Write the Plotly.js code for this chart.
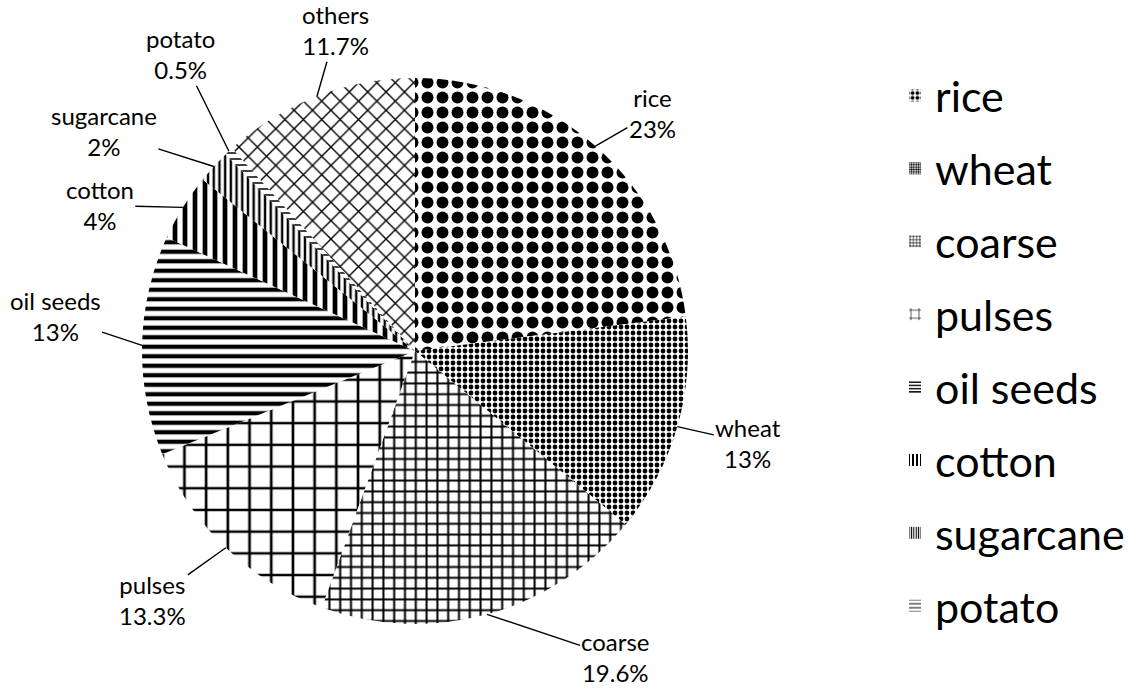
<!DOCTYPE html>
<html><head><meta charset="utf-8">
<script src="https://cdn.plot.ly/plotly-3.0.1.min.js"></script>
<style>html,body{margin:0;padding:0;background:#fff}</style>
</head><body><div id="chart" style="width:1138px;height:691px"></div>
<script>
// ---- data ----
const categories = ['rice', 'wheat', 'coarse', 'pulses', 'oil seeds', 'cotton', 'sugarcane', 'potato', 'others'];
const shares = [23, 13, 19.6, 13.3, 13, 4, 2, 0.5, 11.7];
const legendCategories = ['rice', 'wheat', 'coarse', 'pulses', 'oil seeds', 'cotton', 'sugarcane', 'potato'];

// ---- styles ----
const sliceShapes   = ['.', '.', '+', '+', '-', '|', '|', '-', 'x'];
const sliceSizes    = [15, 6, 10.8, 21.7, 9.5, 10, 5.7, 6, 13];
const sliceSolidity = [0.5, 0.5, 0.34, 0.23, 0.45, 0.47, 0.42, 0.25, 0.2];
const legendSizes    = [6, 3, 4, 12, 4, 5, 3, 5];
const legendSolidity = [0.5, 0.5, 0.35, 0.15, 0.45, 0.5, 0.45, 0.25];
// label text offset (px) from the slice-edge anchor
const labelOffsets = [[57,-33],[71,16],[129,43],[-73,52],[-87,-29],[-83,-2],[-110,-35],[-48,-97],[19,-66]];

const W = 1138, H = 691, cx = 415, cy = 351, R = 273;
const total = shares.reduce((a, b) => a + b, 0);

const traces = [{
  type: 'pie',
  labels: categories,
  values: shares,
  sort: false,
  direction: 'clockwise',
  rotation: 0,
  textinfo: 'none',
  hoverinfo: 'none',
  showlegend: false,
  domain: {x: [(cx - R) / W, (cx + R) / W], y: [(H - cy - R) / H, (H - cy + R) / H]},
  marker: {
    colors: categories.map(() => '#ffffff'),
    line: {width: 0, color: '#ffffff'},
    pattern: {shape: sliceShapes, size: sliceSizes, solidity: sliceSolidity, fgcolor: '#000000', bgcolor: '#ffffff', fillmode: 'replace'}
  }
}];

legendCategories.forEach((c, i) => {
  traces.push({
    type: 'bar', x: [null], y: [null], name: c, legendgroup: 'g' + i,
    hoverinfo: 'none',
    marker: {color: '#ffffff', line: {width: 0},
      pattern: {shape: sliceShapes[i], size: legendSizes[i], solidity: legendSolidity[i], fgcolor: '#000000', bgcolor: '#ffffff', fillmode: 'replace'}}
  });
});

const annotations = [];
let cum = 0;
categories.forEach((c, i) => {
  const mid = (cum + shares[i] / 2) / total;
  cum += shares[i];
  const th = 2 * Math.PI * mid;
  const px = cx + R * Math.sin(th), py = cy - R * Math.cos(th);
  annotations.push({
    xref: 'paper', yref: 'paper', x: px / W, y: 1 - py / H,
    ax: labelOffsets[i][0], ay: labelOffsets[i][1],
    text: c + '<br>' + shares[i] + '%',
    showarrow: true, arrowhead: 0, arrowwidth: 1.4, arrowcolor: '#000', standoff: 0,
    font: {family: 'Lato, sans-serif', size: 24, color: '#000'}, align: 'center'
  });
});

const layout = {
  width: W, height: H,
  margin: {l: 0, r: 0, t: 0, b: 0},
  paper_bgcolor: '#fff', plot_bgcolor: '#fff',
  xaxis: {visible: false}, yaxis: {visible: false},
  showlegend: true,
  legend: {x: 895 / W, xanchor: 'left', y: 1 - 61 / H, yanchor: 'top',
    traceorder: 'grouped', tracegroupgap: 14,
    font: {family: 'Lato, sans-serif', size: 43, color: '#000'}},
  annotations: annotations
};

Plotly.newPlot('chart', traces, layout, {staticPlot: true, displayModeBar: false});
</script></body></html>
